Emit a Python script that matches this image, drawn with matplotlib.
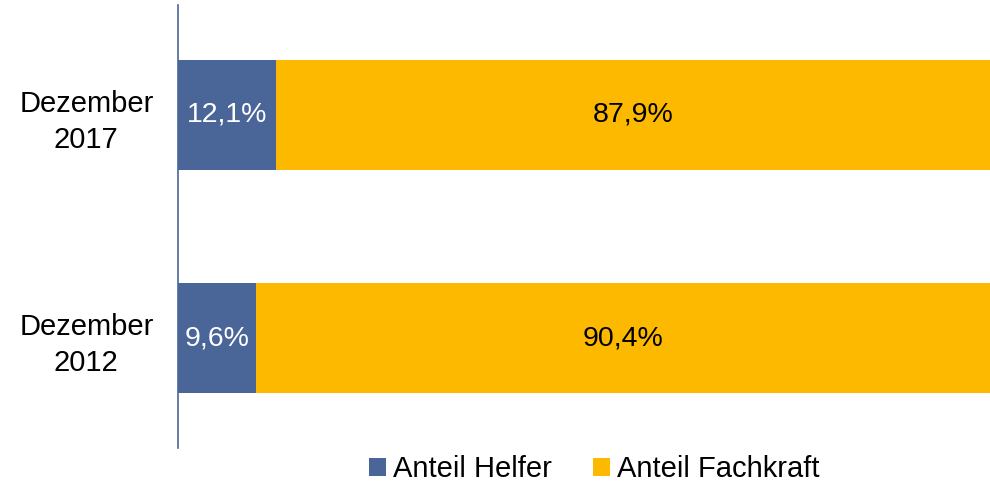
import matplotlib.pyplot as plt

# Data
categories = ['Dezember\n2012', 'Dezember\n2017']
helfer = [9.6, 12.1]
fachkraft = [90.4, 87.9]
series_names = ['Anteil Helfer', 'Anteil Fachkraft']
colors = ['#4A6699', '#FDB900']

plt.rcParams['font.family'] = ['Liberation Sans', 'DejaVu Sans']

fig = plt.figure(figsize=(9.9, 4.84), dpi=100)
ax = fig.add_axes([0.1798, 0.0744, 0.8202, 0.9153])

pos = range(len(categories))
h = 0.493
ax.barh(pos, helfer, height=h, color=colors[0], label=series_names[0])
ax.barh(pos, fachkraft, left=helfer, height=h, color=colors[1], label=series_names[1])

for i, (a, b) in enumerate(zip(helfer, fachkraft)):
    ax.text(a / 2, i, f'{a:.1f}%'.replace('.', ','), ha='center', va='center',
            color='white', fontsize=20.5)
    ax.text(a + b / 2, i, f'{b:.1f}%'.replace('.', ','), ha='center', va='center',
            color='black', fontsize=20.5)

ax.set_xlim(0, 100)
ax.set_ylim(-0.493, 1.493)
ax.set_yticks(list(pos))
ax.set_yticklabels(categories, fontsize=21, linespacing=1.35, ha='center')
ax.tick_params(axis='y', length=0, pad=66)
ax.set_xticks([])
for s in ['top', 'right', 'bottom']:
    ax.spines[s].set_visible(False)
ax.spines['left'].set_color('#4A6699')
ax.spines['left'].set_linewidth(1.2)

fig.legend(loc='center', bbox_to_anchor=(0.6, 0.03), ncol=2, frameon=False,
           fontsize=21, handlelength=0.6, handleheight=0.6, handletextpad=0.22,
           columnspacing=1.4)

fig.savefig('out.png', dpi=100)
